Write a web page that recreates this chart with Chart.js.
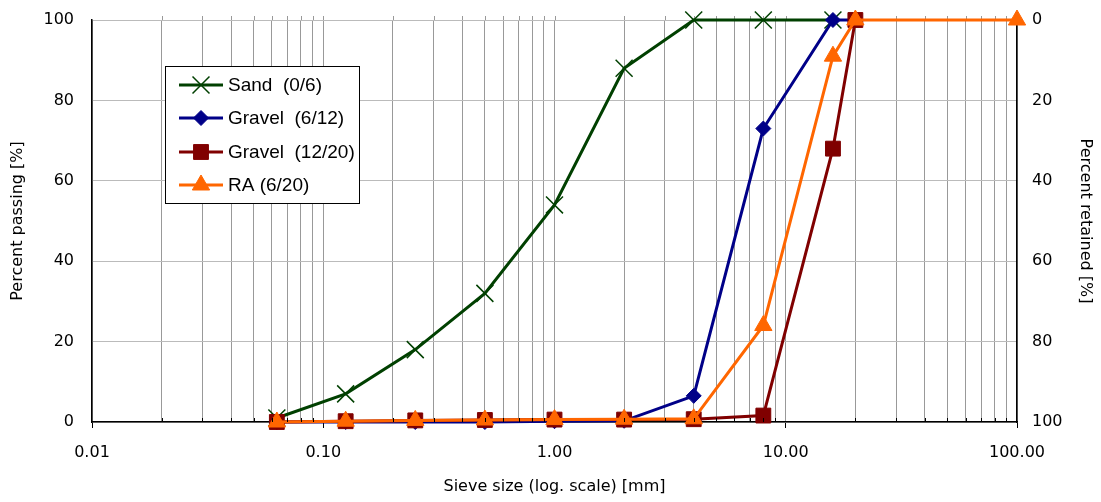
<!DOCTYPE html>
<html><head><meta charset="utf-8">
<script src="https://cdn.jsdelivr.net/npm/chart.js@4.4.1/dist/chart.umd.min.js"></script>
<style>html,body{margin:0;padding:0;background:#fff}#wrap{width:1101px;height:502px}</style>
</head><body><div id="wrap"><canvas id="c" width="1101" height="502"></canvas></div>
<script>
const sieveSizes = [0.063, 0.125, 0.25, 0.5, 1, 2, 4, 8, 16, 20, 100];
const sandPassing = [1, 7, 18, 32, 54, 88, 100, 100, 100];
const gravel612Passing = [0, 0, 0, 0, 0.2, 0.3, 6.5, 73, 100, 100];
const gravel1220Passing = [0, 0.2, 0.4, 0.5, 0.6, 0.6, 0.7, 1.6, 68, 100];
const ra620Passing = [0, 0.2, 0.4, 0.5, 0.6, 0.7, 0.8, 24, 91, 100, 100];
const seriesNames = ['Sand  (0/6)', 'Gravel  (6/12)', 'Gravel  (12/20)', 'RA (6/20)'];
const xMajorTicks = [0.01, 0.1, 1, 10, 100];
const xMinorMultiples = [1, 2, 3, 4, 5, 6, 7, 8, 9];
const yTicks = [0, 20, 40, 60, 80, 100];

const FONT = 'DejaVu Sans, Verdana, sans-serif';
const LFONT = 'Liberation Sans, Arial, Helvetica, sans-serif';
const allXTicks = [];
for (let i = 0; i < xMajorTicks.length; i++) {
  if (i === xMajorTicks.length - 1) { allXTicks.push(xMajorTicks[i]); break; }
  xMinorMultiples.forEach(m => allXTicks.push(+(xMajorTicks[i] * m).toPrecision(6)));
}
const isMajor = v => xMajorTicks.some(m => Math.abs(m - v) < 1e-9);
const pts = vals => vals.map((v, i) => ({x: sieveSizes[i], y: v}));

const styles = [
  {color: '#004000', pointStyle: 'crossRot', radius: 12, pbw: 1.5},
  {color: '#000088', pointStyle: 'rectRot', radius: 7.5, pbw: 1},
  {color: '#800000', pointStyle: 'rect', radius: 10.5, pbw: 1},
  {color: '#ff6600', pointStyle: 'triangle', radius: 10, pbw: 1}
];
const seriesData = [sandPassing, gravel612Passing, gravel1220Passing, ra620Passing];

const datasets = seriesData.map((d, i) => ({
  label: seriesNames[i],
  data: pts(d),
  borderColor: styles[i].color,
  backgroundColor: styles[i].color,
  pointBackgroundColor: styles[i].color,
  pointBorderColor: styles[i].color,
  borderWidth: 3,
  pointStyle: styles[i].pointStyle,
  pointRadius: styles[i].radius,
  pointBorderWidth: styles[i].pbw,
  tension: 0,
  clip: false,
  order: 4 - i
}));

const extrasPlugin = {
  id: 'extras',
  beforeDatasetsDraw(chart) {
    const ctx = chart.ctx;
    const xs = chart.scales.x;
    const top = chart.chartArea.top;
    ctx.save();
    ctx.strokeStyle = '#999';
    ctx.lineWidth = 1;
    allXTicks.forEach(v => {
      if (v === 0.01 || v === 100) return;
      const px = Math.round(xs.getPixelForValue(v)) + 0.5;
      ctx.beginPath(); ctx.moveTo(px, top - 4); ctx.lineTo(px, top); ctx.stroke();
    });
    ctx.restore();
  },
  afterDraw(chart) {
    const ctx = chart.ctx;
    const xs = chart.scales.x;
    const bottom = chart.chartArea.bottom;
    ctx.save();
    ctx.strokeStyle = '#000';
    ctx.lineWidth = 1;
    allXTicks.forEach(v => {
      if (isMajor(v)) return;
      const px = Math.round(xs.getPixelForValue(v)) + 0.5;
      ctx.beginPath(); ctx.moveTo(px, bottom - 4); ctx.lineTo(px, bottom); ctx.stroke();
    });
    // legend
    ctx.fillStyle = '#fff';
    ctx.fillRect(165, 66, 194, 137);
    ctx.strokeStyle = '#000';
    ctx.lineWidth = 1;
    ctx.strokeRect(165.5, 66.5, 194, 137);
    const ys = [85, 118, 152, 185];
    styles.forEach((s, i) => {
      const y = ys[i];
      ctx.strokeStyle = s.color; ctx.fillStyle = s.color; ctx.lineWidth = 3;
      ctx.beginPath(); ctx.moveTo(179, y); ctx.lineTo(223, y); ctx.stroke();
      ctx.lineWidth = s.pbw;
      Chart.helpers.drawPoint(ctx, {pointStyle: s.pointStyle, radius: s.radius, rotation: 0, borderWidth: s.pbw}, 201, y);
      ctx.fillStyle = '#000';
      ctx.font = '19px ' + LFONT;
      ctx.textBaseline = 'middle';
      ctx.textAlign = 'left';
      ctx.fillText(seriesNames[i], 228, y + 1);
    });
    ctx.restore();
  }
};

new Chart(document.getElementById('c'), {
  type: 'line',
  data: {datasets},
  plugins: [extrasPlugin],
  options: {
    responsive: false,
    animation: false,
    layout: {autoPadding: false, padding: {top: 20, left: 0, right: 0, bottom: 0}},
    plugins: {legend: {display: false}, tooltip: {enabled: false}},
    scales: {
      x: {
        type: 'logarithmic', min: 0.01, max: 100, position: 'bottom',
        afterBuildTicks: s => { s.ticks = allXTicks.map(v => ({value: v, major: isMajor(v)})); },
        afterFit: s => { s.height = 80; },
        ticks: {
          autoSkip: false, maxRotation: 0, padding: 15, color: '#000',
          font: {family: FONT, size: 16},
          callback: v => isMajor(v) ? v.toFixed(2) : ''
        },
        grid: {
          color: '#999', lineWidth: 1, tickLength: 6,
          tickColor: ctx => (ctx.tick && ctx.tick.major) ? '#000' : 'rgba(0,0,0,0)'
        },
        border: {color: '#000', width: 1.5},
        title: {display: true, text: 'Sieve size (log. scale) [mm]', color: '#000',
          font: {family: FONT, size: 16}, padding: {top: 0, bottom: 6}}
      },
      y: {
        min: 0, max: 100, position: 'left',
        afterBuildTicks: s => { s.ticks = yTicks.map(v => ({value: v})); },
        afterFit: s => { s.width = 92; },
        ticks: {padding: 8, color: '#000', font: {family: FONT, size: 16}},
        grid: {color: '#bbb', lineWidth: 1, drawTicks: true, tickLength: 10, tickColor: 'rgba(0,0,0,0)'},
        border: {color: '#000', width: 1.5},
        title: {display: true, text: 'Percent passing [%]', color: '#000',
          font: {family: FONT, size: 16}, padding: {top: 8, bottom: 0}}
      },
      y2: {
        min: 0, max: 100, position: 'right', reverse: true,
        afterBuildTicks: s => { s.ticks = yTicks.map(v => ({value: v})); },
        afterFit: s => { s.width = 84; },
        ticks: {padding: 8, color: '#000', font: {family: FONT, size: 16}},
        grid: {drawOnChartArea: false, drawTicks: true, tickLength: 7, tickColor: 'rgba(0,0,0,0)'},
        border: {color: '#000', width: 1.5},
        title: {display: true, text: 'Percent retained [%]', color: '#000',
          font: {family: FONT, size: 16}, padding: {top: 6, bottom: 0}}
      }
    }
  }
});
</script></body></html>
